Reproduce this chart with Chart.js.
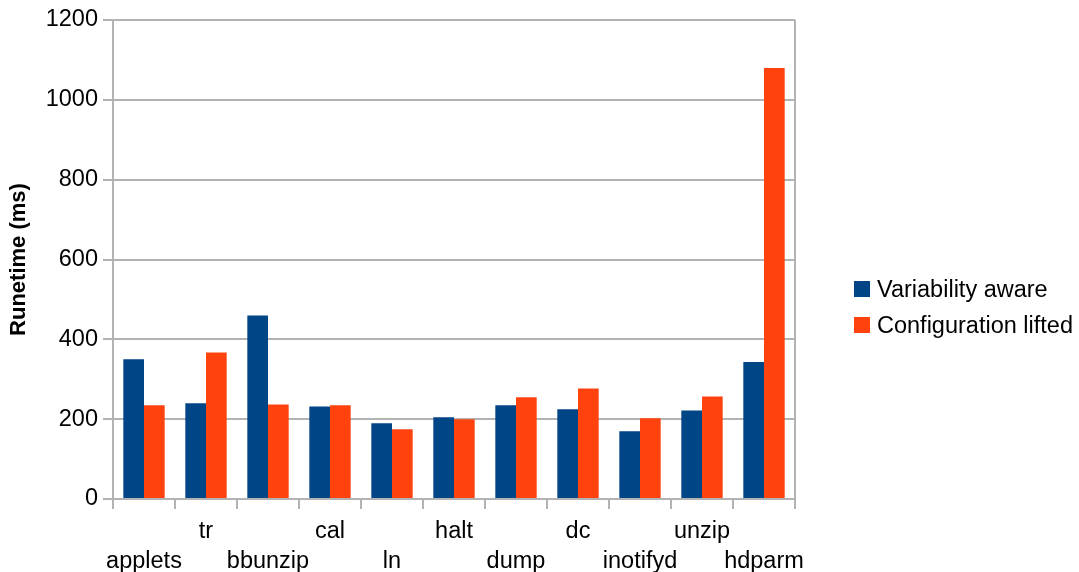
<!DOCTYPE html>
<html>
<head>
<meta charset="utf-8">
<script src="https://cdn.jsdelivr.net/npm/chart.js@4/dist/chart.umd.min.js"></script>
<style>
  body { margin: 0; background: #fff; font-family: 'Liberation Sans', Arial, sans-serif; }
  #wrap { position: relative; width: 1079px; height: 572px; }
  #legend { position: absolute; left: 854px; top: 271px; font-size: 23.5px; color: #000; }
  #legend div { height: 36px; display: flex; align-items: center; }
  #legend span.box { width: 16px; height: 16px; margin-right: 7px; display: inline-block; }
</style>
</head>
<body>
<div id="wrap">
  <canvas id="chartMain" width="1079" height="572"></canvas>
  <div id="legend"></div>
</div>
<script>
const programs = ['applets', 'tr', 'bbunzip', 'cal', 'ln', 'halt', 'dump', 'dc', 'inotifyd', 'unzip', 'hdparm'];
const variabilityAware = [350, 240, 460, 232, 190, 205, 235, 225, 170, 222, 343];
const configLifted = [235, 367, 237, 235, 175, 200, 255, 277, 202, 257, 1080];
const yTicks = [0, 200, 400, 600, 800, 1000, 1200];

const seriesNames = ['Variability aware', 'Configuration lifted'];
const seriesColors = ['#004586', '#ff420e'];
const gridGray = '#b3b3b3';

Chart.defaults.font.family = "'Liberation Sans', Arial, sans-serif";
Chart.defaults.font.size = 23.5;
Chart.defaults.color = '#000';

// staggered labels: even ones on the second row
const labels = programs.map((p, i) => i % 2 === 0 ? ['', p] : [p, '']);

new Chart(document.getElementById('chartMain'), {
    type: 'bar',
    data: {
        labels: labels,
        datasets: [
            { label: seriesNames[0], data: variabilityAware, backgroundColor: seriesColors[0] },
            { label: seriesNames[1], data: configLifted, backgroundColor: seriesColors[1] }
        ]
    },
    options: {
        responsive: false, animation: false,
        layout: { padding: { top: 20, right: 284, left: 0, bottom: 0 } },
        datasets: { bar: { categoryPercentage: 0.667, barPercentage: 1.0 } },
        plugins: { legend: { display: false }, tooltip: { enabled: false } },
        scales: {
            x: {
                grid: {
                    offset: true,
                    color: ctx => ctx.type === 'scale' ? gridGray : 'rgba(0,0,0,0)',
                    lineWidth: 2, tickColor: gridGray, tickLength: 10, tickWidth: 2
                },
                border: { color: gridGray, width: 2 },
                ticks: { autoSkip: false, maxRotation: 0, padding: 7, font: { size: 23.5, lineHeight: 1.28 } },
                afterFit: s => { s.height = 73; }
            },
            y: {
                min: 0, max: 1200,
                afterBuildTicks: s => { s.ticks = yTicks.map(v => ({ value: v })); },
                grid: { color: gridGray, lineWidth: 2, tickLength: 10 },
                border: { color: gridGray, width: 2 },
                ticks: { padding: 5, font: { size: 23.5 }, callback: v => String(v) },
                title: { display: true, text: 'Runetime (ms)', font: { size: 22, weight: 'bold' }, padding: { top: 6, bottom: 0 } },
                afterFit: s => { s.width = 113; }
            }
        }
    }
});

document.getElementById('legend').innerHTML = seriesNames.map((n, i) =>
    `<div><span class="box" style="background:${seriesColors[i]}"></span>${n}</div>`).join('');
</script>
</body>
</html>
